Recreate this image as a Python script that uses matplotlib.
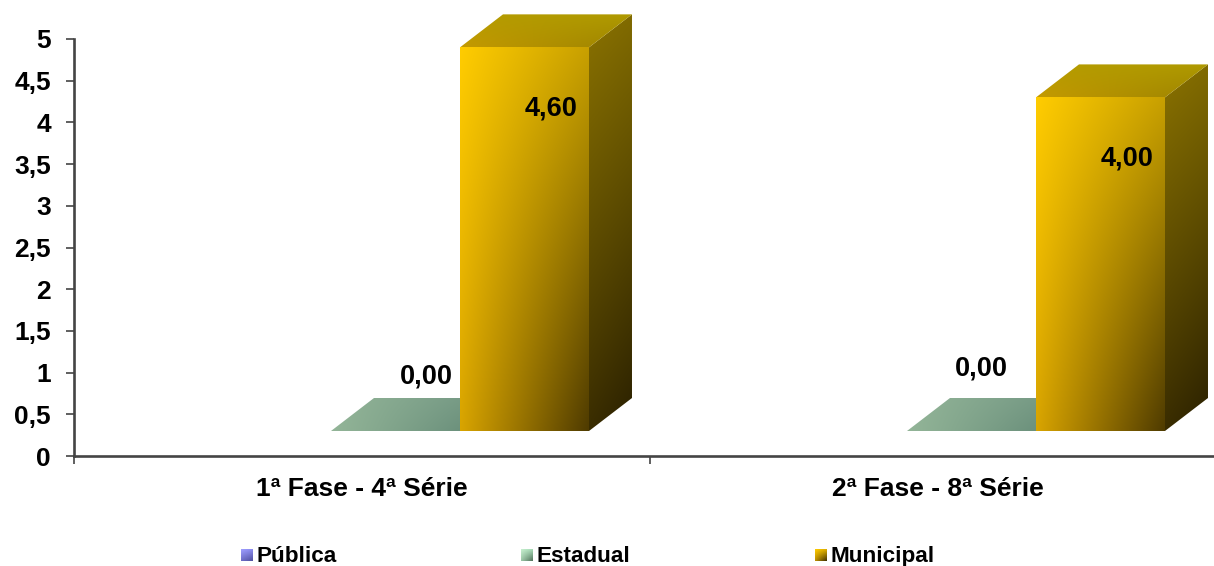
import numpy as np
import matplotlib
matplotlib.use('Agg')
import matplotlib.pyplot as plt
from matplotlib.colors import to_rgb
from matplotlib.patches import Polygon

# Valores
categorias = ['1ª Fase - 4ª Série', '2ª Fase - 8ª Série']
publica = [None, None]
estadual = [0.0, 0.0]
municipal = [4.6, 4.0]
rotulos_estadual = ['0,00', '0,00']
rotulos_municipal = ['4,60', '4,00']
ticks_y = [0, 0.5, 1, 1.5, 2, 2.5, 3, 3.5, 4, 4.5, 5]
ticks_y_txt = ['0', '0,5', '1', '1,5', '2', '2,5', '3', '3,5', '4', '4,5', '5']
legenda = ['Pública', 'Estadual', 'Municipal']

plt.rcParams['font.family'] = ['Liberation Sans', 'DejaVu Sans']
plt.rcParams['font.weight'] = 'bold'

W, H = 1214, 566
PX_CAT = 576.0
PX_UNI = 83.4
LARG = 129 / PX_CAT
INI = 0.2222
DX = 43 / PX_CAT
DY = 33 / PX_UNI
BASE = 25 / PX_UNI

fig = plt.figure(figsize=(W / 100, H / 100), dpi=100, facecolor='white')
ax = fig.add_axes([74 / W, (H - 456) / H, (W - 74) / W, 417 / H])
ax.set_xlim(0, (W - 74) / PX_CAT)
ax.set_ylim(0, 5)


def bilinear(cantos, n=64):
    # cantos: sup. esq., sup. dir., inf. esq., inf. dir.
    te, td, ie, id_ = [np.array(to_rgb(c)) for c in cantos]
    t = np.linspace(0, 1, n)[:, None, None]
    s = np.linspace(0, 1, n)[None, :, None]
    return (1 - t) * ((1 - s) * te + s * td) + t * ((1 - s) * ie + s * id_)


def face(alvo, verts, cantos, z):
    xs = [v[0] for v in verts]
    ys = [v[1] for v in verts]
    im = alvo.imshow(bilinear(cantos), extent=(min(xs), max(xs), min(ys), max(ys)),
                     origin='upper', aspect='auto', interpolation='bilinear', zorder=z)
    pol = Polygon(verts, closed=True, transform=alvo.transData, fc='none', ec='none')
    alvo.add_patch(pol)
    im.set_clip_path(pol)
    im.set_clip_box(fig.bbox)


def barra3d(x, valor, frente, lado, topo, z):
    y0 = BASE
    y1 = BASE + valor
    if valor > 0:
        face(ax, [(x, y0), (x + LARG, y0), (x + LARG, y1), (x, y1)], frente, z)
        face(ax, [(x + LARG, y0), (x + LARG + DX, y0 + DY), (x + LARG + DX, y1 + DY), (x + LARG, y1)], lado, z)
    face(ax, [(x, y1), (x + LARG, y1), (x + LARG + DX, y1 + DY), (x + DX, y1 + DY)], topo, z)


front_mun = ['#FFCC00', '#C8A000', '#D8A400', '#503C00']
lado_mun = ['#8A7200', '#806A00', '#3A2D00', '#2A2000']
topo_mun = ['#B59C00', '#B09A00', '#C49A00', '#9C8400']
topo_est = ['#93B598', '#6F9380', '#93B598', '#5F8573']

for i in range(len(categorias)):
    x_est = i + INI + LARG
    x_mun = i + INI + 2 * LARG
    barra3d(x_est, estadual[i], None, None, topo_est, 2)
    barra3d(x_mun, municipal[i], front_mun, lado_mun, topo_mun, 3)
    ax.text(x_mun + LARG - 11 / PX_CAT, BASE + municipal[i] - 61 / PX_UNI, rotulos_municipal[i],
            ha='right', va='center', fontsize=19.5, color='black', zorder=5)

ax.text(INI + 2 * LARG - 7 / PX_CAT, (456 - 377) / PX_UNI, rotulos_estadual[0],
        ha='right', va='center', fontsize=19.5, color='black', zorder=5)
ax.text(1 + INI + 2 * LARG - 28 / PX_CAT, (456 - 369) / PX_UNI, rotulos_estadual[1],
        ha='right', va='center', fontsize=19.5, color='black', zorder=5)

ax.set_xlim(0, (W - 74) / PX_CAT)
ax.set_ylim(0, 5)
ax.patch.set_visible(False)

for lado in ['top', 'right']:
    ax.spines[lado].set_visible(False)
for lado in ['left', 'bottom']:
    ax.spines[lado].set_color('#444444')
    ax.spines[lado].set_linewidth(1.9)

ax.set_yticks(ticks_y)
ax.set_yticklabels(ticks_y_txt, fontsize=19, fontweight='bold')
ax.tick_params(axis='y', length=6, width=1.2, color='#444444', pad=10.5)
ax.set_xticks([0.5, 1.5])
ax.set_xticklabels(categorias, fontsize=19, fontweight='bold')
ax.set_xticks([0, 1], minor=True)
ax.tick_params(axis='x', which='major', length=0, pad=15)
ax.tick_params(axis='x', which='minor', length=6, width=1.2, color='#444444')

# legenda com quadradinhos em degrade
swatches = [['#A0A0FF', '#8C8CF0', '#6C6CC8', '#50509C'],
            ['#C8F0D0', '#A8DCB8', '#9CC8A8', '#4F6F58'],
            ['#FFCC00', '#E0B000', '#C09000', '#3A2D00']]
x_leg = [241, 521, 815]
for nome, cores, xl in zip(legenda, swatches, x_leg):
    a = fig.add_axes([xl / W, (H - 561) / H, 12 / W, 12 / H])
    a.imshow(bilinear(cores), aspect='auto', interpolation='bilinear')
    a.axis('off')
    fig.text((xl + 16) / W, (H - 562) / H, nome, ha='left', va='baseline',
             fontsize=16.2, fontweight='bold', color='black')

fig.savefig('out.png', dpi=100, facecolor='white')
